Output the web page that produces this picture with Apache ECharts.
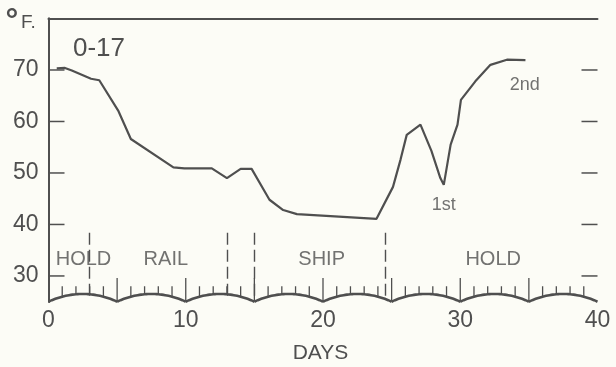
<!DOCTYPE html>
<html>
<head>
<meta charset="utf-8">
<script src="https://cdn.jsdelivr.net/npm/echarts@6/dist/echarts.min.js"></script>
<style>
  html, body { margin: 0; padding: 0; background: #fcfcf6; }
  #chart { width: 616px; height: 367px; }
</style>
</head>
<body>
<div id="chart"></div>
<script>
// Temperature record of lot 0-17, degrees F against days in transit
const days  = [0.6, 1.2, 1.7, 3.1, 3.7, 5.1, 6.0, 9.1, 9.9, 11.9, 13.0, 14.0, 14.8, 16.1, 17.1, 18.1, 23.9, 25.1, 25.65, 26.1, 27.1, 27.9, 28.55, 28.8, 29.3, 29.8, 30.05, 31.1, 32.2, 33.4, 34.75];
const temps = [70.3, 70.4, 69.9, 68.3, 68.0, 62.0, 56.6, 51.1, 50.9, 50.9, 49.0, 50.8, 50.8, 44.8, 42.8, 42.0, 41.1, 47.3, 52.6, 57.4, 59.4, 54.3, 49.0, 47.7, 55.5, 59.4, 64.2, 67.8, 71.0, 72.0, 71.9];

// Handling stages and the days at which they change
const phaseBounds    = [3, 13, 15, 24.5];
const phaseNames     = ['HOLD', 'RAIL', 'SHIP', 'HOLD'];
const phaseLabelDays = [2.55, 8.55, 19.9, 32.4];
const phaseLabelTemp = 33.2;

// Notes on the curve
const noteTexts = ['1st', '2nd'];
const noteDays  = [28.8, 34.7];
const noteTemps = [43.8, 67.1];

// Axis ticks
const yTicks = [30, 40, 50, 60, 70];
const xTicks = [0, 10, 20, 30, 40];
const scallopStarts = [0, 5, 10, 15, 20, 25, 30, 35];

const INK = '#4f4f4f';
const FONT = '"Liberation Sans", Arial, sans-serif';

const X_MIN = 0, X_MAX = 40, Y_MIN = 25, Y_MAX = 80;

// Scalloped day scale along the bottom
const SPAN = 5, BASE = 25, CREST = 26.5, MINOR_TOP = 28.0, MAJOR_TOP = 29.6;
const DASH_TOP = 38.4, DASH_BOTTOM = 26.0;
const Y_TICK_LEN = 16;

function renderScallop(params, api) {
  const d0 = api.value(0);
  const a = api.coord([d0, BASE]);
  const b = api.coord([d0 + SPAN, BASE]);
  const crestY = api.coord([d0 + SPAN / 2, CREST])[1];
  const h = (b[0] - a[0]) / 2, s = a[1] - crestY;
  const R = (h * h + s * s) / (2 * s);
  const cx = (a[0] + b[0]) / 2, cy = crestY + R;
  const arcY = x => cy - Math.sqrt(Math.max(0, R * R - (x - cx) * (x - cx)));
  const pts = [];
  for (let i = 0; i <= 40; i++) {
    const x = a[0] + (b[0] - a[0]) * i / 40;
    pts.push([x, arcY(x)]);
  }
  const children = [{
    type: 'polyline', shape: { points: pts },
    style: { stroke: INK, lineWidth: 2.6, fill: 'none' }
  }];
  for (let k = 0; k < SPAN; k++) {
    const d = d0 + k;
    if (d <= 0) continue;
    const x = api.coord([d, BASE])[0];
    const top = api.coord([d, k === 0 ? MAJOR_TOP : MINOR_TOP])[1];
    children.push({
      type: 'line', shape: { x1: x, y1: arcY(x), x2: x, y2: top },
      style: { stroke: INK, lineWidth: 1.3 }
    });
  }
  return { type: 'group', children };
}

// Inward temperature ticks on both side frames
function renderYTick(params, api) {
  const v = api.value(1);
  const l = api.coord([X_MIN, v]);
  const r = api.coord([X_MAX, v]);
  const st = { stroke: INK, lineWidth: 1.5 };
  return {
    type: 'group',
    children: [
      { type: 'line', shape: { x1: l[0], y1: l[1], x2: l[0] + Y_TICK_LEN, y2: l[1] }, style: st },
      { type: 'line', shape: { x1: r[0], y1: r[1], x2: r[0] - Y_TICK_LEN, y2: r[1] }, style: st }
    ]
  };
}

const chart = echarts.init(document.getElementById('chart'), null, { renderer: 'canvas' });

chart.setOption({
  animation: false,
  backgroundColor: '#fcfcf6',
  textStyle: { fontFamily: FONT },
  grid: { left: 48.5, right: 18.5, top: 18.5, bottom: 65.3 },
  xAxis: [{
    type: 'value', position: 'bottom', min: X_MIN, max: X_MAX, interval: 10,
    axisLine: { show: false }, axisTick: { show: false }, splitLine: { show: false },
    axisLabel: { customValues: xTicks, margin: 7, fontSize: 23, color: INK, fontFamily: FONT }
  }, {
    type: 'value', position: 'top', min: X_MIN, max: X_MAX,
    axisLine: { show: true, lineStyle: { color: INK, width: 2 } },
    axisTick: { show: false }, axisLabel: { show: false }, splitLine: { show: false }
  }],
  yAxis: [{
    type: 'value', position: 'left', min: Y_MIN, max: Y_MAX,
    axisLine: { show: true, lineStyle: { color: INK, width: 2 } },
    axisTick: { show: false },
    axisLabel: { customValues: yTicks, margin: 10, fontSize: 23, color: INK, fontFamily: FONT },
    splitLine: { show: false }
  }, {
    type: 'value', position: 'right', min: Y_MIN, max: Y_MAX,
    axisLine: { show: true, lineStyle: { color: INK, width: 2 } },
    axisTick: { show: false }, axisLabel: { show: false }, splitLine: { show: false }
  }],
  graphic: [
    { type: 'text', left: 73, top: 36, style: { text: '0-17', fontSize: 26, fontFamily: FONT, fill: INK } },
    { type: 'text', x: 5.5, y: 5.5, style: { text: '°', fontSize: 32, fontWeight: 'bold', fontFamily: FONT, fill: INK } },
    { type: 'text', x: 21, y: 13.5, style: { text: 'F.', fontSize: 19, fontFamily: FONT, fill: INK } },
    { type: 'text', x: 320.5, y: 353, style: { text: 'DAYS', fontSize: 21, fontFamily: FONT, fill: INK, align: 'center', verticalAlign: 'middle' } }
  ],
  series: [{
    type: 'custom',
    coordinateSystem: 'cartesian2d',
    renderItem: renderScallop,
    data: scallopStarts.map(d => [d, BASE]),
    encode: { x: 0, y: 1 },
    silent: true
  }, {
    type: 'custom',
    coordinateSystem: 'cartesian2d',
    renderItem: renderYTick,
    data: yTicks.map(v => [X_MIN, v]),
    encode: { x: 0, y: 1 },
    silent: true
  }, {
    type: 'line',
    data: days.map((d, i) => [d, temps[i]]),
    showSymbol: false,
    lineStyle: { color: INK, width: 2.2 },
    silent: true,
    markLine: {
      silent: true,
      symbol: ['none', 'none'],
      label: { show: false },
      lineStyle: { color: INK, width: 1.4, type: [12, 5] },
      data: phaseBounds.map(d => [{ coord: [d, DASH_TOP] }, { coord: [d, DASH_BOTTOM] }])
    }
  }, {
    type: 'scatter',
    symbol: 'circle', symbolSize: 1,
    itemStyle: { color: 'rgba(0,0,0,0)' },
    silent: true,
    data: phaseNames.map((t, i) => ({ value: [phaseLabelDays[i], phaseLabelTemp], name: t })),
    label: { show: true, position: 'inside', formatter: p => p.name, fontSize: 20, color: INK, fontFamily: FONT }
  }, {
    type: 'scatter',
    symbol: 'circle', symbolSize: 1,
    itemStyle: { color: 'rgba(0,0,0,0)' },
    silent: true,
    data: noteTexts.map((t, i) => ({ value: [noteDays[i], noteTemps[i]], name: t })),
    label: { show: true, position: 'inside', formatter: p => p.name, fontSize: 18, color: INK, fontFamily: FONT }
  }]
});
</script>
</body>
</html>
